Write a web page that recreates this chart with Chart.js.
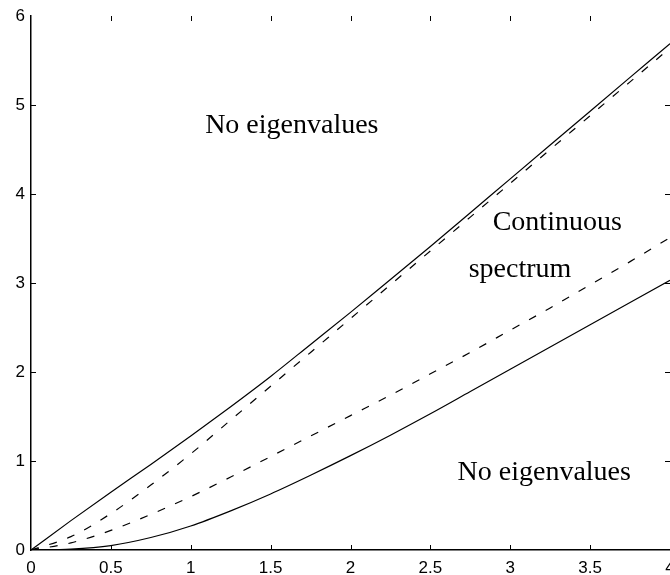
<!DOCTYPE html>
<html>
<head>
<meta charset="utf-8">
<script src="https://cdn.jsdelivr.net/npm/chart.js@4"></script>
<style>
  html, body { margin: 0; padding: 0; background: #fff; overflow: hidden; }
  #wrap { width: 670px; height: 575px; }
</style>
</head>
<body>
<div id="wrap"><canvas id="myChart" width="670" height="575"></canvas></div>
<script>
// x values shared by the four curves
const xValues = [0, 0.25, 0.5, 0.75, 1, 1.25, 1.5, 1.75, 2, 2.25, 2.5, 2.75, 3, 3.25, 3.5, 3.75, 4];

// upper boundary (solid) and its dashed companion
const upperSolid  = [0, 0.33, 0.65, 0.96, 1.28, 1.61, 1.95, 2.31, 2.67, 3.04, 3.41, 3.79, 4.17, 4.55, 4.93, 5.31, 5.69];
const upperDashed = [0, 0.15, 0.41, 0.73, 1.08, 1.46, 1.84, 2.22, 2.60, 2.98, 3.36, 3.74, 4.12, 4.50, 4.88, 5.26, 5.64];
// lower boundary (solid) and its dashed companion
const lowerDashed = [0, 0.08, 0.22, 0.40, 0.60, 0.82, 1.05, 1.28, 1.51, 1.74, 1.98, 2.22, 2.47, 2.72, 2.98, 3.24, 3.51];
const lowerSolid  = [0, 0.01, 0.05, 0.14, 0.27, 0.44, 0.63, 0.84, 1.06, 1.29, 1.53, 1.78, 2.03, 2.28, 2.53, 2.78, 3.03];

// tick values
const xTicks = [0, 0.5, 1, 1.5, 2, 2.5, 3, 3.5, 4];
const yTicks = [0, 1, 2, 3, 4, 5, 6];

// text labels inside the plot (data coordinates, left aligned, baseline)
const regionLabels = [
    { text: 'No eigenvalues', x: 1.09, y: 4.69 },
    { text: 'Continuous', x: 2.89, y: 3.60 },
    { text: 'spectrum', x: 2.74, y: 3.07 },
    { text: 'No eigenvalues', x: 2.67, y: 0.79 }
];

const toPoints = ys => ys.map((y, i) => ({ x: xValues[i], y: y }));

function lineSet(ys, dashed) {
    return {
        data: toPoints(ys),
        borderColor: '#000',
        borderWidth: 1.2,
        borderDash: dashed ? [8, 11] : [],
        pointRadius: 0,
        showLine: true,
        fill: false,
        cubicInterpolationMode: 'monotone'
    };
}

// small inward tick marks on all four sides + region text
const matlabAxes = {
    id: 'matlabAxes',
    afterDraw(chart) {
        const { ctx, chartArea: a, scales: { x, y } } = chart;
        const len = 5;
        ctx.save();
        ctx.strokeStyle = '#000';
        ctx.lineWidth = 1;
        ctx.beginPath();
        xTicks.slice(1, -1).forEach(v => {
            const px = Math.round(x.getPixelForValue(v)) + 0.5;
            ctx.moveTo(px, a.bottom); ctx.lineTo(px, a.bottom - len);
            ctx.moveTo(px, a.top); ctx.lineTo(px, a.top + len);
        });
        yTicks.slice(1, -1).forEach(v => {
            const py = Math.round(y.getPixelForValue(v)) + 0.5;
            ctx.moveTo(a.left, py); ctx.lineTo(a.left + len, py);
            ctx.moveTo(a.right, py); ctx.lineTo(a.right - len, py);
        });
        ctx.stroke();

        ctx.fillStyle = '#000';
        ctx.font = '28px "Liberation Serif", "Times New Roman", serif';
        ctx.textAlign = 'left';
        ctx.textBaseline = 'alphabetic';
        regionLabels.forEach(l => {
            ctx.fillText(l.text, x.getPixelForValue(l.x), y.getPixelForValue(l.y));
        });
        ctx.restore();
    }
};

const ctx = document.getElementById('myChart');

const myChart = new Chart(ctx, {
    type: 'scatter',
    data: {
        datasets: [
            lineSet(upperSolid, false),
            lineSet(upperDashed, true),
            lineSet(lowerDashed, true),
            lineSet(lowerSolid, false)
        ]
    },
    options: {
        responsive: false,
        animation: false,
        layout: { padding: { top: 16, right: -1, left: 0, bottom: 0 } },
        plugins: { legend: { display: false }, tooltip: { enabled: false } },
        scales: {
            x: {
                type: 'linear',
                min: 0,
                max: 4,
                grid: { display: false, drawTicks: false },
                border: { display: true, color: '#000', width: 1.5 },
                afterBuildTicks: s => { s.ticks = xTicks.map(v => ({ value: v })); },
                afterFit: s => { s.height = 25; s.paddingLeft = 0; s.paddingRight = 0; },
                ticks: {
                    color: '#000',
                    padding: 8,
                    maxRotation: 0,
                    autoSkip: false,
                    font: { family: '"Liberation Sans", Arial, sans-serif', size: 17 },
                    callback: v => String(v)
                }
            },
            y: {
                type: 'linear',
                min: 0,
                max: 6,
                grid: { display: false, drawTicks: false },
                border: { display: true, color: '#000', width: 1.5 },
                afterBuildTicks: s => { s.ticks = yTicks.map(v => ({ value: v })); },
                afterFit: s => { s.width = 31; s.paddingTop = 0; s.paddingBottom = 0; },
                ticks: {
                    color: '#000',
                    padding: 6,
                    autoSkip: false,
                    font: { family: '"Liberation Sans", Arial, sans-serif', size: 17 },
                    callback: v => String(v)
                }
            }
        }
    },
    plugins: [matlabAxes]
});
</script>
</body>
</html>
